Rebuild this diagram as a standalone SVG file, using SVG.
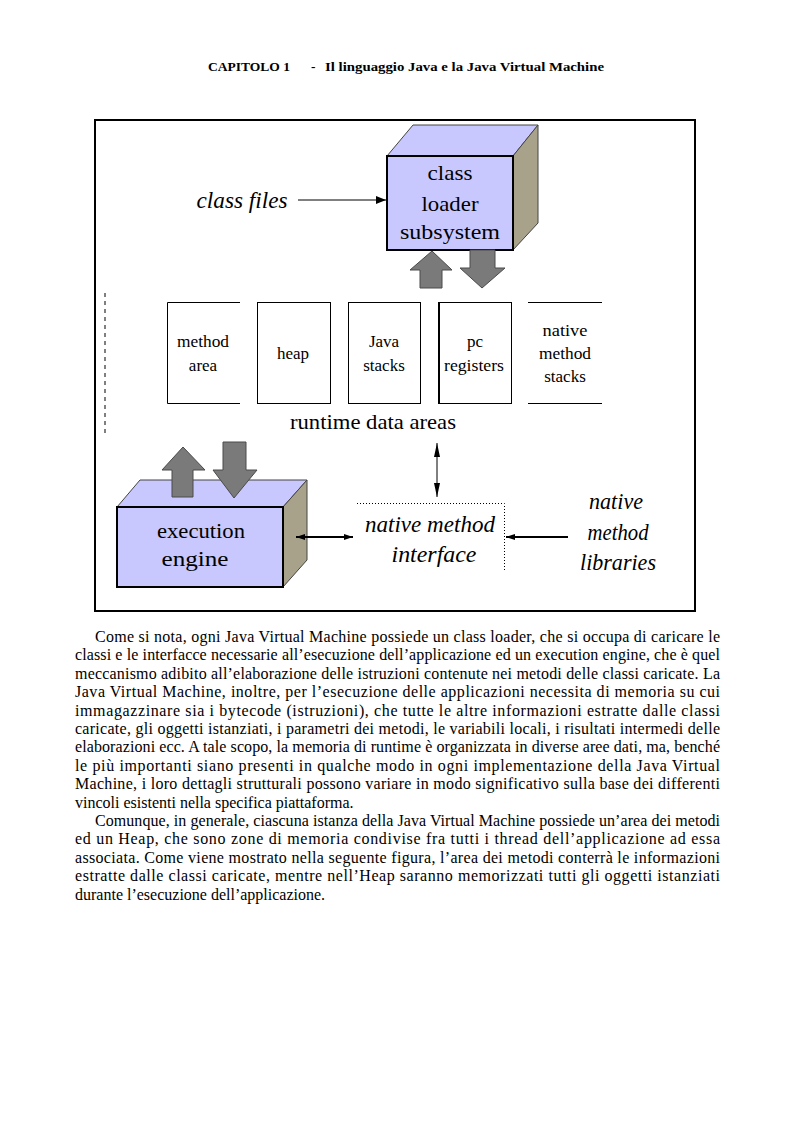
<svg xmlns="http://www.w3.org/2000/svg" width="793" height="1123" viewBox="0 0 793 1123">
<style>
.hdr{font-family:"Liberation Serif","Times New Roman",serif;font-weight:bold;font-size:13.5px;fill:#000}
.body{font-family:"Liberation Serif","Times New Roman",serif;font-size:16px;fill:#000}
.lbl{font-family:"Liberation Serif","Times New Roman",serif;font-size:22px;fill:#000;text-anchor:middle}
.it{font-family:"Liberation Serif","Times New Roman",serif;font-style:italic;font-size:22.5px;fill:#000;text-anchor:middle}
.sm{font-family:"Liberation Serif","Times New Roman",serif;font-size:17px;fill:#000;text-anchor:middle}
.front{fill:#C8C8FF;stroke:#000;stroke-width:2}
.top{fill:#C8C8FF;stroke:#444;stroke-width:1}
.side{fill:#A8A28A;stroke:#444;stroke-width:1}
.blk{fill:#7A7A7A;stroke:#4A4A4A;stroke-width:1}
.box{fill:none;stroke:#000;stroke-width:1}
.ln{fill:none;stroke:#000}
</style>
<defs>
<marker id="ah" markerUnits="userSpaceOnUse" markerWidth="12" markerHeight="10" refX="10" refY="4" orient="auto">
<path d="M0,0 L10,4 L0,8 z" fill="#000"/>
</marker>
<marker id="ahs" markerUnits="userSpaceOnUse" markerWidth="10" markerHeight="8" refX="9" refY="3" orient="auto-start-reverse">
<path d="M0,0 L9,3 L0,6 z" fill="#000"/>
</marker>
<marker id="ahn" markerUnits="userSpaceOnUse" markerWidth="16" markerHeight="8" refX="14" refY="3" orient="auto-start-reverse">
<path d="M0,0 L14,3 L0,6 z" fill="#000"/>
</marker>
</defs>

<text class="hdr" x="208" y="71" textLength="82" lengthAdjust="spacingAndGlyphs">CAPITOLO 1</text>
<text class="hdr" x="311" y="71">-</text>
<text class="hdr" x="325" y="71" textLength="279" lengthAdjust="spacingAndGlyphs">Il linguaggio Java e la Java Virtual Machine</text>

<rect x="95" y="120" width="600" height="491" fill="none" stroke="#000" stroke-width="2"/>

<g id="class-loader">
<polygon class="top" points="387,156 413,125 538,125 513,156"/>
<polygon class="side" points="513,156 538,125 538,223 513,250"/>
<rect class="front" x="387" y="156" width="126" height="94"/>
<text class="lbl" x="450" y="180" textLength="45" lengthAdjust="spacingAndGlyphs">class</text>
<text class="lbl" x="450" y="211" textLength="57" lengthAdjust="spacingAndGlyphs">loader</text>
<text class="lbl" x="450" y="239" textLength="100" lengthAdjust="spacingAndGlyphs">subsystem</text>
</g>

<g id="class-files">
<text class="it" x="242" y="208" textLength="91" lengthAdjust="spacingAndGlyphs">class files</text>
</g>

<g id="runtime-data-areas">
<line x1="105" y1="293" x2="105" y2="437" stroke="#000" stroke-width="1" stroke-dasharray="4,4"/>
<g id="method-area">
<path class="box" d="M240,302.5 H167.5 V403.5 H240"/>
<text class="sm" x="203" y="347" textLength="52" lengthAdjust="spacingAndGlyphs">method</text>
<text class="sm" x="203" y="371">area</text>
</g>
<g id="heap">
<rect class="box" x="257.5" y="302.5" width="73" height="101"/>
<text class="sm" x="293" y="359">heap</text>
</g>
<g id="java-stacks">
<rect class="box" x="348.5" y="302.5" width="72" height="101"/>
<text class="sm" x="384" y="347">Java</text>
<text class="sm" x="384" y="371">stacks</text>
</g>
<g id="pc-registers">
<rect class="box" x="438.5" y="302.5" width="73" height="101"/>
<line x1="439.5" y1="302" x2="439.5" y2="404" stroke="#000" stroke-width="1"/>
<text class="sm" x="475" y="347">pc</text>
<text class="sm" x="474" y="371" textLength="60" lengthAdjust="spacingAndGlyphs">registers</text>
</g>
<g id="native-method-stacks">
<path class="box" d="M528,302.5 H602 M528,403.5 H602"/>
<text class="sm" x="565" y="336" textLength="45" lengthAdjust="spacingAndGlyphs">native</text>
<text class="sm" x="565" y="359" textLength="52" lengthAdjust="spacingAndGlyphs">method</text>
<text class="sm" x="565" y="382">stacks</text>
</g>
<text class="lbl" x="373" y="429" textLength="166" lengthAdjust="spacingAndGlyphs">runtime data areas</text>
</g>

<g id="execution-engine">
<polygon class="top" points="117,507 140,480 307,480 283,507"/>
<polygon class="side" points="283,507 307,480 307,560 283,587"/>
<rect class="front" x="117" y="507" width="166" height="80"/>
<text class="lbl" x="201" y="538" textLength="88" lengthAdjust="spacingAndGlyphs">execution</text>
<text class="lbl" x="195" y="566" textLength="67" lengthAdjust="spacingAndGlyphs">engine</text>
</g>

<g id="native-method-interface">
<path d="M357,503.5 H504.5 V572" fill="none" stroke="#000" stroke-width="1" stroke-dasharray="1,2"/>
<text class="it" x="430" y="532" textLength="130" lengthAdjust="spacingAndGlyphs">native method</text>
<text class="it" x="434" y="562" textLength="85" lengthAdjust="spacingAndGlyphs">interface</text>
</g>

<g id="native-method-libraries">
<text class="it" x="616" y="509" textLength="54" lengthAdjust="spacingAndGlyphs">native</text>
<text class="it" x="618" y="540" textLength="61" lengthAdjust="spacingAndGlyphs">method</text>
<text class="it" x="618" y="570" textLength="76" lengthAdjust="spacingAndGlyphs">libraries</text>
</g>

<g id="connectors">
<line class="ln" x1="298" y1="200" x2="386" y2="200" stroke-width="1" marker-end="url(#ah)"/>
<polygon class="blk" points="432,251 452,270 442,270 442,288 420,288 420,270 410,270"/>
<polygon class="blk" points="470,250 495,250 495,268 505,268 482,288 460,268 470,268"/>
<polygon class="blk" points="183,447 205,470 193,470 193,497 172,497 172,470 162,470"/>
<polygon class="blk" points="223,442 246,442 246,470 257,470 234,498 213,470 223,470"/>
<line class="ln" x1="296" y1="537" x2="353" y2="537" stroke-width="2" marker-start="url(#ahs)" marker-end="url(#ahs)"/>
<line class="ln" x1="437" y1="443" x2="437" y2="497" stroke-width="1" marker-start="url(#ahn)" marker-end="url(#ahn)"/>
<line class="ln" x1="568" y1="537" x2="506" y2="537" stroke-width="2" marker-end="url(#ahs)"/>
</g>

<g id="text">
<text class="body" x="95" y="642" textLength="625" lengthAdjust="spacing">Come si nota, ogni Java Virtual Machine possiede un class loader, che si occupa di caricare le</text>
<text class="body" x="75" y="660.4" textLength="645" lengthAdjust="spacing">classi e le interfacce necessarie all’esecuzione dell’applicazione ed un execution engine, che è quel</text>
<text class="body" x="75" y="678.8" textLength="645" lengthAdjust="spacing">meccanismo adibito all’elaborazione delle istruzioni contenute nei metodi delle classi caricate. La</text>
<text class="body" x="75" y="697.2" textLength="645" lengthAdjust="spacing">Java Virtual Machine, inoltre, per l’esecuzione delle applicazioni necessita di memoria su cui</text>
<text class="body" x="75" y="715.6" textLength="645" lengthAdjust="spacing">immagazzinare sia i bytecode (istruzioni), che tutte le altre informazioni estratte dalle classi</text>
<text class="body" x="75" y="734" textLength="645" lengthAdjust="spacing">caricate, gli oggetti istanziati, i parametri dei metodi, le variabili locali, i risultati intermedi delle</text>
<text class="body" x="75" y="752.4" textLength="645" lengthAdjust="spacing">elaborazioni ecc. A tale scopo, la memoria di runtime è organizzata in diverse aree dati, ma, benché</text>
<text class="body" x="75" y="770.8" textLength="645" lengthAdjust="spacing">le più importanti siano presenti in qualche modo in ogni implementazione della Java Virtual</text>
<text class="body" x="75" y="789.2" textLength="645" lengthAdjust="spacing">Machine, i loro dettagli strutturali possono variare in modo significativo sulla base dei differenti</text>
<text class="body" x="75" y="807.6">vincoli esistenti nella specifica piattaforma.</text>
<text class="body" x="95" y="826" textLength="625" lengthAdjust="spacing">Comunque, in generale, ciascuna istanza della Java Virtual Machine possiede un’area dei metodi</text>
<text class="body" x="75" y="844.4" textLength="645" lengthAdjust="spacing">ed un Heap, che sono zone di memoria condivise fra tutti i thread dell’applicazione ad essa</text>
<text class="body" x="75" y="862.8" textLength="645" lengthAdjust="spacing">associata. Come viene mostrato nella seguente figura, l’area dei metodi conterrà le informazioni</text>
<text class="body" x="75" y="881.2" textLength="645" lengthAdjust="spacing">estratte dalle classi caricate, mentre nell’Heap saranno memorizzati tutti gli oggetti istanziati</text>
<text class="body" x="75" y="899.6">durante l’esecuzione dell’applicazione.</text>
</g>
</svg>
